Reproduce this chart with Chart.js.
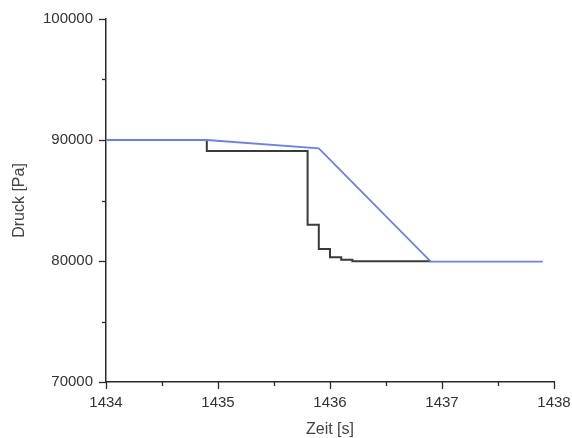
<!DOCTYPE html>
<html>
<head>
<meta charset="utf-8">
<script src="https://cdn.jsdelivr.net/npm/chart.js@4/dist/chart.umd.min.js"></script>
<style>
  html, body { margin: 0; padding: 0; background: #ffffff; }
  #wrap { width: 572px; height: 438px; }
</style>
</head>
<body>
<div id="wrap"><canvas id="c" width="572" height="438"></canvas></div>
<script>
// Measured pressure (black, stepped)
const measuredTime  = [1434, 1434.9, 1435.8, 1435.9, 1436.0, 1436.1, 1436.2, 1436.9];
const measuredPress = [90000, 89100, 83000, 81000, 80300, 80100, 79980, 79980];
// Setpoint / ramp (blue)
const rampTime  = [1434, 1434.9, 1435.9, 1436.9, 1437.9];
const rampPress = [90000, 90000, 89300, 79950, 79950];

const xMin = 1434, xMax = 1438, xStep = 1;
const yMin = 70000, yMax = 100000, yStep = 10000;

const toXY = (xs, ys) => xs.map((x, i) => ({ x: x, y: ys[i] }));

const tickMarks = {
  id: 'tickMarks',
  afterDraw(chart) {
    const ctx = chart.ctx;
    const xs = chart.scales.x, ys = chart.scales.y;
    ctx.save();
    ctx.strokeStyle = '#2a2a2a';
    ctx.lineWidth = 1.3;
    for (let v = yMin; v <= yMax + 1e-6; v += yStep / 2) {
      const p = Math.round(ys.getPixelForValue(v)) + 0.5;
      const major = Math.abs(v % yStep) < 1e-6;
      const len = major ? 7 : 4;
      ctx.beginPath();
      ctx.moveTo(xs.left, p);
      ctx.lineTo(xs.left - len, p);
      ctx.stroke();
    }
    for (let v = xMin; v <= xMax + 1e-6; v += xStep / 2) {
      const p = Math.round(xs.getPixelForValue(v)) + 0.5;
      const major = Math.abs((v - xMin) % xStep) < 1e-6;
      const len = major ? 7 : 4;
      ctx.beginPath();
      ctx.moveTo(p, ys.bottom);
      ctx.lineTo(p, ys.bottom + len);
      ctx.stroke();
    }
    ctx.restore();
  }
};

const tickFont = { family: '"Liberation Sans", Arial, sans-serif', size: 15 };
const titleFont = { family: '"Liberation Sans", Arial, sans-serif', size: 16, lineHeight: 1 };

new Chart(document.getElementById('c'), {
  type: 'line',
  data: {
    datasets: [
      {
        label: 'Messung',
        data: toXY(measuredTime, measuredPress),
        borderColor: '#3a3a3a',
        borderWidth: 2,
        stepped: true,
        pointRadius: 0,
        fill: false,
        order: 1
      },
      {
        label: 'Sollwert',
        data: toXY(rampTime, rampPress),
        borderColor: '#6b82e2',
        borderWidth: 1.8,
        tension: 0,
        pointRadius: 0,
        fill: false,
        order: 0
      }
    ]
  },
  options: {
    responsive: false,
    animation: false,
    devicePixelRatio: 1,
    layout: { padding: { left: 0, top: 19, right: 18, bottom: 0 } },
    plugins: { legend: { display: false }, tooltip: { enabled: false } },
    scales: {
      x: {
        type: 'linear',
        min: xMin, max: xMax,
        afterFit(s) { s.height = 56; s.paddingLeft = 0; s.paddingRight = 0; },
        grid: { display: true, drawOnChartArea: false, drawTicks: false },
        border: { display: true, color: '#2a2a2a', width: 1.5 },
        ticks: {
          stepSize: xStep,
          padding: 12,
          color: '#333',
          font: tickFont,
          callback: v => String(v)
        },
        title: {
          display: true,
          text: 'Zeit [s]',
          color: '#444',
          font: titleFont,
          padding: { top: 0, bottom: 0 }
        }
      },
      y: {
        type: 'linear',
        min: yMin, max: yMax,
        afterFit(s) { s.width = 106; s.paddingTop = 0; s.paddingBottom = 0; },
        grid: { display: true, drawOnChartArea: false, drawTicks: false },
        border: { display: true, color: '#2a2a2a', width: 1.5 },
        ticks: {
          stepSize: yStep,
          padding: 13,
          color: '#333',
          font: tickFont,
          callback: v => String(v)
        },
        title: {
          display: true,
          text: 'Druck [Pa]',
          color: '#444',
          font: titleFont,
          padding: { top: 12, bottom: 0 }
        }
      }
    }
  },
  plugins: [tickMarks]
});
</script>
</body>
</html>
